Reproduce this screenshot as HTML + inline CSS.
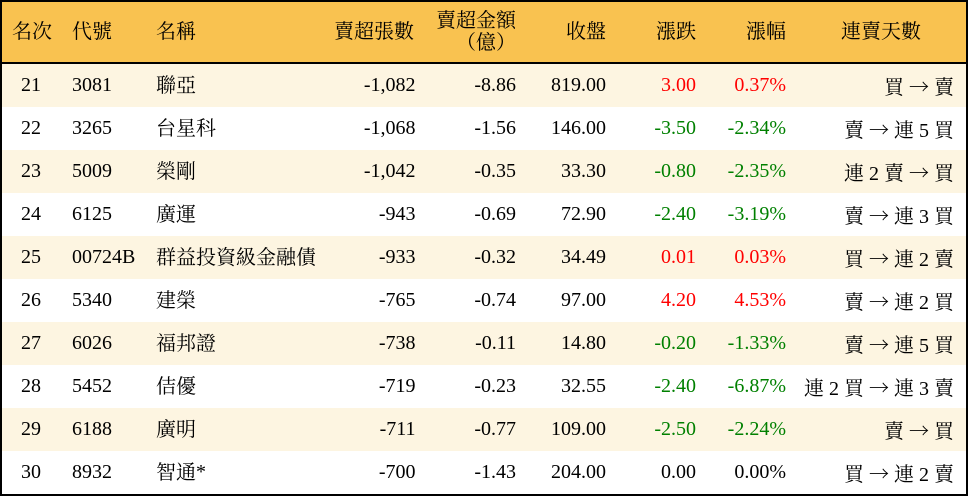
<!DOCTYPE html>
<html>
<head>
<meta charset="utf-8">
<style>
html,body{margin:0;padding:0;background:#fff;}
body{width:968px;height:496px;position:relative;overflow:hidden;
font-family:"Liberation Serif","Noto Serif CJK SC","Noto Serif CJK TC",serif;font-size:20px;color:#000;}
.frame{position:absolute;left:0;top:0;width:968px;height:496px;box-sizing:border-box;border:2px solid #000;z-index:5;pointer-events:none;}
.hdr{position:absolute;left:0;top:0;width:968px;height:62px;background:#F9C250;}
.hline{position:absolute;left:0;top:62px;width:968px;height:2px;background:#000;z-index:4;}
.row{position:absolute;left:0;width:968px;height:43px;}
.cream{background:#FDF5E1;}
.c{position:absolute;white-space:nowrap;line-height:42px;height:43px;top:0;}
.h{position:absolute;white-space:nowrap;line-height:60px;top:2px;}
.k{position:relative;top:1px;}
.l9{position:relative;top:1px;}
.ar{font-family:"Noto Serif CJK SC","Noto Sans CJK JP",serif;}
.r{color:#FF0000;}
.g{color:#008000;}
</style>
</head>
<body>
<div class="hdr">
  <div class="h" style="left:12px;">名次</div>
  <div class="h" style="left:72px;">代號</div>
  <div class="h" style="left:156px;">名稱</div>
  <div class="h" style="right:554px;">賣超張數</div>
  <div class="h" style="right:452px;top:10px;line-height:22px;text-align:right;">賣超金額<br>（億）</div>
  <div class="h" style="right:362px;">收盤</div>
  <div class="h" style="right:272px;">漲跌</div>
  <div class="h" style="right:182px;">漲幅</div>
  <div class="h" style="left:841px;">連賣天數</div>
</div>
<div class="hline"></div>

<div class="row cream" style="top:64px;">
  <div class="c" style="left:21px;">21</div>
  <div class="c" style="left:72px;">3081</div>
  <div class="c" style="left:156px;"><span class="k">聯亞</span></div>
  <div class="c" style="right:552.5px;">-1,082</div>
  <div class="c" style="right:452px;">-8.86</div>
  <div class="c" style="right:362px;">819.00</div>
  <div class="c r" style="right:272px;">3.00</div>
  <div class="c r" style="right:182px;">0.37%</div>
  <div class="c" style="right:14px;"><span class="l9">買 <span class="ar">→</span> 賣</span></div>
</div>
<div class="row" style="top:107px;">
  <div class="c" style="left:21px;">22</div>
  <div class="c" style="left:72px;">3265</div>
  <div class="c" style="left:156px;"><span class="k">台星科</span></div>
  <div class="c" style="right:552.5px;">-1,068</div>
  <div class="c" style="right:452px;">-1.56</div>
  <div class="c" style="right:362px;">146.00</div>
  <div class="c g" style="right:272px;">-3.50</div>
  <div class="c g" style="right:182px;">-2.34%</div>
  <div class="c" style="right:14px;"><span class="l9">賣 <span class="ar">→</span> 連 5 買</span></div>
</div>
<div class="row cream" style="top:150px;">
  <div class="c" style="left:21px;">23</div>
  <div class="c" style="left:72px;">5009</div>
  <div class="c" style="left:156px;"><span class="k">榮剛</span></div>
  <div class="c" style="right:552.5px;">-1,042</div>
  <div class="c" style="right:452px;">-0.35</div>
  <div class="c" style="right:362px;">33.30</div>
  <div class="c g" style="right:272px;">-0.80</div>
  <div class="c g" style="right:182px;">-2.35%</div>
  <div class="c" style="right:14px;"><span class="l9">連 2 賣 <span class="ar">→</span> 買</span></div>
</div>
<div class="row" style="top:193px;">
  <div class="c" style="left:21px;">24</div>
  <div class="c" style="left:72px;">6125</div>
  <div class="c" style="left:156px;"><span class="k">廣運</span></div>
  <div class="c" style="right:552.5px;">-943</div>
  <div class="c" style="right:452px;">-0.69</div>
  <div class="c" style="right:362px;">72.90</div>
  <div class="c g" style="right:272px;">-2.40</div>
  <div class="c g" style="right:182px;">-3.19%</div>
  <div class="c" style="right:14px;"><span class="l9">賣 <span class="ar">→</span> 連 3 買</span></div>
</div>
<div class="row cream" style="top:236px;">
  <div class="c" style="left:21px;">25</div>
  <div class="c" style="left:72px;">00724B</div>
  <div class="c" style="left:156px;"><span class="k">群益投資級金融債</span></div>
  <div class="c" style="right:552.5px;">-933</div>
  <div class="c" style="right:452px;">-0.32</div>
  <div class="c" style="right:362px;">34.49</div>
  <div class="c r" style="right:272px;">0.01</div>
  <div class="c r" style="right:182px;">0.03%</div>
  <div class="c" style="right:14px;"><span class="l9">買 <span class="ar">→</span> 連 2 賣</span></div>
</div>
<div class="row" style="top:279px;">
  <div class="c" style="left:21px;">26</div>
  <div class="c" style="left:72px;">5340</div>
  <div class="c" style="left:156px;"><span class="k">建榮</span></div>
  <div class="c" style="right:552.5px;">-765</div>
  <div class="c" style="right:452px;">-0.74</div>
  <div class="c" style="right:362px;">97.00</div>
  <div class="c r" style="right:272px;">4.20</div>
  <div class="c r" style="right:182px;">4.53%</div>
  <div class="c" style="right:14px;"><span class="l9">賣 <span class="ar">→</span> 連 2 買</span></div>
</div>
<div class="row cream" style="top:322px;">
  <div class="c" style="left:21px;">27</div>
  <div class="c" style="left:72px;">6026</div>
  <div class="c" style="left:156px;"><span class="k">福邦證</span></div>
  <div class="c" style="right:552.5px;">-738</div>
  <div class="c" style="right:452px;">-0.11</div>
  <div class="c" style="right:362px;">14.80</div>
  <div class="c g" style="right:272px;">-0.20</div>
  <div class="c g" style="right:182px;">-1.33%</div>
  <div class="c" style="right:14px;"><span class="l9">賣 <span class="ar">→</span> 連 5 買</span></div>
</div>
<div class="row" style="top:365px;">
  <div class="c" style="left:21px;">28</div>
  <div class="c" style="left:72px;">5452</div>
  <div class="c" style="left:156px;"><span class="k">佶優</span></div>
  <div class="c" style="right:552.5px;">-719</div>
  <div class="c" style="right:452px;">-0.23</div>
  <div class="c" style="right:362px;">32.55</div>
  <div class="c g" style="right:272px;">-2.40</div>
  <div class="c g" style="right:182px;">-6.87%</div>
  <div class="c" style="right:14px;"><span class="l9">連 2 買 <span class="ar">→</span> 連 3 賣</span></div>
</div>
<div class="row cream" style="top:408px;">
  <div class="c" style="left:21px;">29</div>
  <div class="c" style="left:72px;">6188</div>
  <div class="c" style="left:156px;"><span class="k">廣明</span></div>
  <div class="c" style="right:552.5px;">-711</div>
  <div class="c" style="right:452px;">-0.77</div>
  <div class="c" style="right:362px;">109.00</div>
  <div class="c g" style="right:272px;">-2.50</div>
  <div class="c g" style="right:182px;">-2.24%</div>
  <div class="c" style="right:14px;"><span class="l9">賣 <span class="ar">→</span> 買</span></div>
</div>
<div class="row" style="top:451px;">
  <div class="c" style="left:21px;">30</div>
  <div class="c" style="left:72px;">8932</div>
  <div class="c" style="left:156px;"><span class="k">智通</span>*</div>
  <div class="c" style="right:552.5px;">-700</div>
  <div class="c" style="right:452px;">-1.43</div>
  <div class="c" style="right:362px;">204.00</div>
  <div class="c" style="right:272px;">0.00</div>
  <div class="c" style="right:182px;">0.00%</div>
  <div class="c" style="right:14px;"><span class="l9">買 <span class="ar">→</span> 連 2 賣</span></div>
</div>

<div class="frame"></div>
</body>
</html>
